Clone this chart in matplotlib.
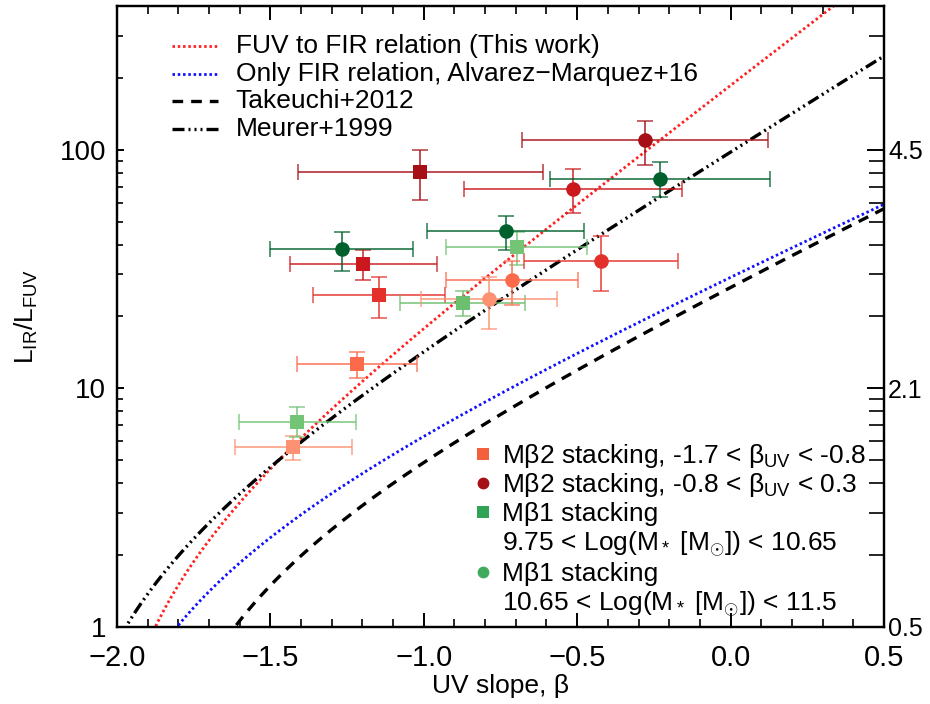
import numpy as np
import matplotlib
matplotlib.use('Agg')
from matplotlib import pyplot as plt
from matplotlib.ticker import MultipleLocator, FixedLocator, FuncFormatter, LogLocator, NullFormatter

plt.rcParams['font.family'] = ['Liberation Sans', 'DejaVu Sans']
plt.rcParams['mathtext.fontset'] = 'custom'
plt.rcParams['mathtext.rm'] = 'Liberation Sans'
plt.rcParams['mathtext.it'] = 'Liberation Sans:italic'
plt.rcParams['mathtext.bf'] = 'Liberation Sans:bold'

# Mbeta2 stacking, squares (-1.7 < beta < -0.8)
m2_sq_beta = [-1.011, -1.197, -1.145, -1.217, -1.425]
m2_sq_beta_err = [0.40, 0.24, 0.215, 0.196, 0.19]
m2_sq_irx = [81.0, 33.3, 24.6, 12.6, 5.67]
m2_sq_irx_lo = [61.7, 28.5, 19.7, 11.0, 5.01]
m2_sq_irx_hi = [100.0, 38.1, 29.4, 14.2, 6.34]
m2_sq_colors = ['#a50f15', '#cb181d', '#e3302a', '#fb6a4a', '#fc9272']

# Mbeta2 stacking, circles (-0.8 < beta < 0.3)
m2_ci_beta = [-0.279, -0.514, -0.422, -0.712, -0.787]
m2_ci_beta_err = [0.40, 0.356, 0.25, 0.215, 0.221]
m2_ci_irx = [110.0, 68.6, 34.3, 28.5, 23.7]
m2_ci_irx_lo = [86.0, 54.3, 25.5, 22.4, 17.7]
m2_ci_irx_hi = [132.0, 83.0, 43.3, 34.3, 29.4]
m2_ci_colors = ['#a50f15', '#cb181d', '#e3302a', '#fb6a4a', '#fc9272']

# Mbeta1 stacking, low mass bin (squares)
m1_sq_beta = [-1.412, -0.873, -0.697]
m1_sq_beta_err = [0.19, 0.204, 0.23]
m1_sq_irx = [7.22, 22.8, 39.2]
m1_sq_irx_lo = [6.28, 20.1, 33.0]
m1_sq_irx_hi = [8.34, 25.5, 45.4]
m1_sq_colors = ['#74c476', '#6cbf6e', '#74c476']

# Mbeta1 stacking, high mass bin (circles)
m1_ci_beta = [-1.268, -0.733, -0.230]
m1_ci_beta_err = [0.232, 0.255, 0.36]
m1_ci_irx = [38.5, 45.8, 75.5]
m1_ci_irx_lo = [31.1, 38.1, 63.1]
m1_ci_irx_hi = [45.4, 52.9, 88.4]
m1_ci_colors = ['#00612c', '#00612c', '#00612c']

# IRX-beta relations: A_FUV = a + b*beta, IRX = 1.68*(10^(0.4*A_FUV) - 1)
relation_names = ['FUV to FIR relation (This work)',
                  'Only FIR relation, Alvarez\u2212Marquez+16',
                  'Takeuchi+2012', 'Meurer+1999']
relation_a = [5.12, 3.16, 3.06, 4.43]
relation_b = [2.46, 1.47, 1.58, 1.99]

right_ticks = [1, 10, 100]
right_labels = ['0.5', '2.1', '4.5']


def irx_curve(beta, a, b):
    irx = 1.68 * (10 ** (0.4 * (a + b * beta)) - 1)
    return np.where(irx > 0, irx, np.nan)


fig = plt.figure(figsize=(9.3, 7.04), dpi=100)
ax = fig.add_axes([0.1258, 0.1094, 0.8247, 0.8821])

beta_grid = np.linspace(-2.0, 0.5, 600)
line_styles = [
    dict(color='#ff2020', lw=2.0, ls=(0, (0.9, 1.0))),
    dict(color='#1010ff', lw=2.0, ls=(0, (0.9, 1.0))),
    dict(color='k', lw=2.4, ls=(0, (3.2, 2.4))),
    dict(color='k', lw=2.4, ls=(0, (3.6, 1.2, 0.6, 1.2, 0.6, 1.2, 0.6, 1.2))),
]
for a, b, st in zip(relation_a, relation_b, line_styles):
    ax.plot(beta_grid, irx_curve(beta_grid, a, b), **st)


def draw_points(beta, beta_err, irx, lo, hi, colors, marker, ms):
    for i in range(len(beta)):
        pt, caps, bars = ax.errorbar(beta[i], irx[i], xerr=beta_err[i],
                                     yerr=[[irx[i] - lo[i]], [hi[i] - irx[i]]],
                                     fmt=marker, color=colors[i], ms=ms,
                                     ecolor=colors[i], elinewidth=1.3,
                                     capsize=5.5, capthick=1.3, zorder=3)
        pt.set_markeredgewidth(0)
        for c in caps:
            c.set_alpha(0.7)
        for b in bars:
            b.set_alpha(0.8)


draw_points(m2_sq_beta, m2_sq_beta_err, m2_sq_irx, m2_sq_irx_lo, m2_sq_irx_hi, m2_sq_colors, 's', 10)
draw_points(m1_sq_beta, m1_sq_beta_err, m1_sq_irx, m1_sq_irx_lo, m1_sq_irx_hi, m1_sq_colors, 's', 10)
draw_points(m2_ci_beta, m2_ci_beta_err, m2_ci_irx, m2_ci_irx_lo, m2_ci_irx_hi, m2_ci_colors, 'o', 10.5)
draw_points(m1_ci_beta, m1_ci_beta_err, m1_ci_irx, m1_ci_irx_lo, m1_ci_irx_hi, m1_ci_colors, 'o', 10.5)

ax.set_xlim(-2.0, 0.5)
ax.set_yscale('log')
ax.set_ylim(1, 400)

ax.xaxis.set_major_locator(MultipleLocator(0.5))
ax.xaxis.set_minor_locator(MultipleLocator(0.1))
ax.xaxis.set_major_formatter(FuncFormatter(lambda v, p: ('%.1f' % v).replace('-', '\u2212')))
ax.yaxis.set_major_locator(FixedLocator([1, 10, 100]))
ax.yaxis.set_major_formatter(FuncFormatter(lambda v, p: '%d' % v))
ax.yaxis.set_minor_locator(LogLocator(base=10, subs=np.arange(2, 10)))
ax.yaxis.set_minor_formatter(NullFormatter())

ax.tick_params(axis='x', which='major', direction='in', length=10, width=1.4,
               top=True, labelsize=21, pad=12)
ax.tick_params(axis='x', which='minor', direction='in', length=6, width=1.2, top=True)
ax.tick_params(axis='y', which='major', direction='in', length=5, width=1.4,
               right=False, labelsize=20, pad=8)
ax.tick_params(axis='y', which='minor', direction='in', length=4.5, width=1.2, right=False)
for sp in ax.spines.values():
    sp.set_linewidth(1.6)

ax.set_xlabel('UV slope, \u03b2', fontsize=19, labelpad=2)
ax.set_ylabel(r'L$_{\mathrm{IR}}$/L$_{\mathrm{FUV}}$', fontsize=19, labelpad=14)

# A_FUV labels on the right side
ax2 = ax.twinx()
ax2.set_yscale('log')
ax2.set_ylim(1, 400)
ax2.yaxis.set_major_locator(FixedLocator(right_ticks))
ax2.yaxis.set_major_formatter(FuncFormatter(lambda v, p: right_labels[right_ticks.index(round(v))] if round(v) in right_ticks else ''))
ax2.yaxis.set_minor_locator(LogLocator(base=10, subs=np.arange(2, 10)))
ax2.yaxis.set_minor_formatter(NullFormatter())
ax2.tick_params(axis='y', which='major', direction='in', length=12, width=1.4, labelsize=18, pad=3)
ax2.tick_params(axis='y', which='minor', direction='in', length=11, width=1.2)
for sp in ax2.spines.values():
    sp.set_linewidth(1.6)

# legend for the relations, upper left
leg_y = [0.9356, 0.8905, 0.847, 0.802]
for name, st, y in zip(relation_names, line_styles, leg_y):
    ax.plot([0.0717, 0.1317], [y, y], transform=ax.transAxes, clip_on=False, **st)
    ax.text(0.155, y, name, transform=ax.transAxes, fontsize=19, va='center', ha='left')

# legend for the stacked points, lower right
pt_x = 0.477
txt_x = 0.502
rows = [
    ('s', '#f4603e', 'M\u03b22 stacking, -1.7 < \u03b2$_{\\mathrm{UV}}$ < -0.8', 0.2786),
    ('o', '#a50f15', 'M\u03b22 stacking, -0.8 < \u03b2$_{\\mathrm{UV}}$ < 0.3', 0.2324),
    ('s', '#31a354', 'M\u03b21 stacking', 0.1857),
    (None, None, r'9.75 < Log(M$_*$ [M$_{\odot}$]) < 10.65', 0.1374),
    ('o', '#41ab5d', 'M\u03b21 stacking', 0.089),
    (None, None, r'10.65 < Log(M$_*$ [M$_{\odot}$]) < 11.5', 0.0407),
]
for mk, col, label, y in rows:
    if mk is not None:
        ax.plot(pt_x, y, marker=mk, color=col, ms=8.5, mew=0, transform=ax.transAxes, clip_on=False)
    ax.text(txt_x, y - 0.0153, label, transform=ax.transAxes, fontsize=19, va='baseline', ha='left')

plt.savefig('out.png', dpi=100)
